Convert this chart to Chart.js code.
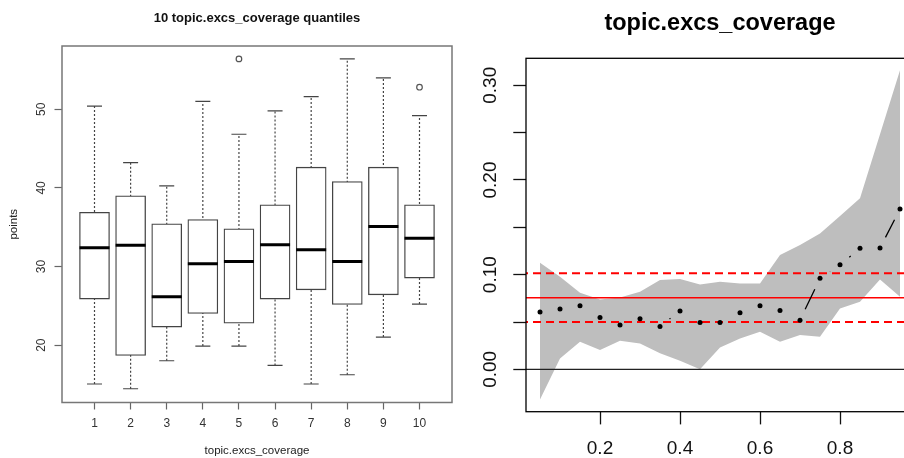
<!DOCTYPE html>
<html><head><meta charset="utf-8">
<script src="https://cdn.jsdelivr.net/npm/chart.js@4.4.1/dist/chart.umd.min.js"></script>
<style>
html,body{margin:0;padding:0;background:#fff;overflow:hidden;width:904px;height:458px;position:relative;}
#c1{position:absolute;left:0;top:0;}
#c2{position:absolute;left:470px;top:0;}
</style></head><body>
<canvas id="c1" width="470" height="458"></canvas>
<canvas id="c2" width="460" height="458"></canvas>
<script>
const FONT = "'Liberation Sans', Arial, Helvetica, sans-serif";

// ---------- Left panel: boxplot of points by quantile group ----------
const quantileGroups = [1, 2, 3, 4, 5, 6, 7, 8, 9, 10];
const whiskerLow  = [15.06, 14.46, 18.02, 19.89, 19.89, 17.42, 15.06, 16.24, 21.03, 25.22];
const q1          = [25.86, 18.70, 22.30, 24.03, 22.80, 25.86, 27.04, 25.17, 26.40, 28.53];
const median      = [32.40, 32.70, 26.15, 30.34, 30.64, 32.76, 32.12, 30.64, 35.08, 33.60];
const q3          = [36.90, 39.00, 35.43, 35.97, 34.79, 37.84, 42.63, 40.80, 42.63, 37.84];
const whiskerHigh = [50.40, 43.20, 40.25, 51.00, 46.82, 49.80, 51.60, 56.40, 53.98, 49.19];
const outlierGroups = [5, 10];
const outlierValues = [56.4, 52.8];
const leftYTicks = [20, 30, 40, 50];
const leftYTickLabels = ['20', '30', '40', '50'];
const leftXTickLabels = ['1', '2', '3', '4', '5', '6', '7', '8', '9', '10'];

// ---------- Right panel: coverage estimate with band ----------
const coverageX = [0.05, 0.10, 0.15, 0.20, 0.25, 0.30, 0.35, 0.40, 0.45, 0.50,
                   0.55, 0.60, 0.65, 0.70, 0.75, 0.80, 0.85, 0.90, 0.95];
const estimate  = [0.0605, 0.0637, 0.0672, 0.0549, 0.0468, 0.0535, 0.0454, 0.0616, 0.0496, 0.0496,
                   0.0598, 0.0672, 0.0623, 0.0520, 0.0961, 0.1105, 0.1278, 0.1281, 0.1693];
const bandUpper = [0.1126, 0.0978, 0.0809, 0.0739, 0.0760, 0.0820, 0.0943, 0.0954, 0.0897, 0.0925,
                   0.0908, 0.0908, 0.1207, 0.1313, 0.1436, 0.1619, 0.1806, 0.2484, 0.3160];
const bandLower = [-0.0317, 0.0116, 0.0292, 0.0204, 0.0302, 0.0274, 0.0169, 0.0091, 0.0000, 0.0232,
                   0.0327, 0.0397, 0.0292, 0.0362, 0.0344, 0.0644, 0.0714, 0.0950, 0.0767];
const meanLevel = 0.0757;
const upperLevel = 0.1014;
const lowerLevel = 0.0500;
const zeroLevel = 0;
const rightYTicks = [0, 0.05, 0.10, 0.15, 0.20, 0.25, 0.30];
const rightYTickLabels = ['0.00', '', '0.10', '', '0.20', '', '0.30'];
const rightXTicks = [0.2, 0.4, 0.6, 0.8];
const rightXTickLabels = ['0.2', '0.4', '0.6', '0.8'];

// ---------- plugins ----------
const framePlugin = {
  id: 'frame',
  afterDatasetsDraw(chart, args, opts) {
    const {ctx, chartArea: a} = chart;
    ctx.save();
    ctx.strokeStyle = opts.color || '#000';
    ctx.lineWidth = opts.width || 1;
    ctx.strokeRect(a.left, a.top, a.right - a.left, a.bottom - a.top);
    ctx.restore();
  }
};
const connectorPlugin = {
  id: 'connector',
  afterDatasetsDraw(chart, args, opts) {
    if (opts.datasetIndex === undefined) return;
    const {ctx, chartArea: a} = chart;
    const pts = chart.getDatasetMeta(opts.datasetIndex).data;
    const gap = opts.gap;
    ctx.save();
    ctx.beginPath();
    ctx.rect(a.left, a.top, a.right - a.left, a.bottom - a.top);
    ctx.clip();
    ctx.strokeStyle = opts.color;
    ctx.lineWidth = opts.width;
    ctx.beginPath();
    for (let i = 0; i < pts.length - 1; i++) {
      const p0 = pts[i], p1 = pts[i + 1];
      const dx = p1.x - p0.x, dy = p1.y - p0.y;
      const L = Math.sqrt(dx * dx + dy * dy);
      if (L > 2 * gap) {
        ctx.moveTo(p0.x + dx / L * gap, p0.y + dy / L * gap);
        ctx.lineTo(p1.x - dx / L * gap, p1.y - dy / L * gap);
      }
    }
    ctx.stroke();
    ctx.restore();
  }
};

// ---------- left chart ----------
const whiskerData = [];
quantileGroups.forEach((g, i) => {
  whiskerData.push({x: g, y: whiskerLow[i]}, {x: g, y: whiskerHigh[i]}, {x: g + 0.5, y: null});
});
const capData = [];
quantileGroups.forEach((g, i) => { capData.push({x: g, y: whiskerLow[i]}, {x: g, y: whiskerHigh[i]}); });

new Chart(document.getElementById('c1'), {
  type: 'bar',
  data: {
    datasets: [
      {type: 'scatter', label: 'median', data: quantileGroups.map((g, i) => ({x: g, y: median[i]})),
       pointStyle: 'line', pointRadius: 15, pointBorderWidth: 3, pointBorderColor: '#000', borderColor: '#000', order: 0},
      {type: 'scatter', label: 'caps', data: capData,
       pointStyle: 'line', pointRadius: 7.5, pointBorderWidth: 1.2, pointBorderColor: '#444', borderColor: '#444', order: 1},
      {type: 'scatter', label: 'outliers', data: outlierGroups.map((g, i) => ({x: g, y: outlierValues[i]})),
       pointStyle: 'circle', pointRadius: 2.8, pointBorderWidth: 1.2, pointBorderColor: '#555',
       pointBackgroundColor: 'rgba(255,255,255,0)', order: 1},
      {type: 'bar', label: 'box', data: quantileGroups.map((g, i) => ({x: g, y: [q1[i], q3[i]]})),
       barThickness: 30, backgroundColor: '#fff', borderColor: '#444', borderWidth: 1.3, borderSkipped: false, order: 2},
      {type: 'line', label: 'whiskers', data: whiskerData, borderDash: [2, 2], borderColor: '#444',
       borderWidth: 1.2, pointRadius: 0, spanGaps: false, fill: false, order: 3}
    ]
  },
  options: {
    responsive: false, animation: false, events: [],
    layout: {padding: {left: 0, right: 12, top: 0, bottom: 0}},
    plugins: {
      legend: {display: false}, tooltip: {enabled: false},
      title: {display: true, text: '10 topic.excs_coverage quantiles', fullSize: false, color: '#111',
              font: {family: FONT, size: 13, weight: 'bold'}, padding: {top: 10.4, bottom: 20}},
      frame: {color: '#777', width: 1.5}
    },
    scales: {
      x: {
        type: 'linear', min: 0.1, max: 10.9, offset: false,
        afterBuildTicks: s => { s.ticks = quantileGroups.map(v => ({value: v})); },
        afterFit: s => { s.height = 55.5; },
        ticks: {autoSkip: false, minRotation: 0, maxRotation: 0, padding: 7, color: '#333',
                font: {family: FONT, size: 12}, callback: (v, i) => leftXTickLabels[i]},
        grid: {display: true, offset: false, drawOnChartArea: false, drawTicks: true, tickLength: 7, tickColor: '#666', tickWidth: 1.2},
        border: {display: false},
        title: {display: true, text: 'topic.excs_coverage', color: '#222', font: {family: FONT, size: 11.5},
                padding: {top: 0, bottom: 0.6}}
      },
      y: {
        type: 'linear', min: 12.71, max: 58.04, beginAtZero: false,
        afterBuildTicks: s => { s.ticks = leftYTicks.map(v => ({value: v})); },
        afterFit: s => { s.width = 62; },
        ticks: {autoSkip: false, minRotation: 90, maxRotation: 90, crossAlign: 'center', padding: 6.5, color: '#333',
                font: {family: FONT, size: 12}, callback: (v, i) => leftYTickLabels[i]},
        grid: {display: true, drawOnChartArea: false, drawTicks: true, tickLength: 7.5, tickColor: '#666', tickWidth: 1.2},
        border: {display: false},
        title: {display: true, text: 'points', color: '#222', font: {family: FONT, size: 11.5},
                padding: {top: 7, bottom: 0}}
      }
    }
  },
  plugins: [framePlugin]
});

// ---------- right chart ----------
const xy = (xs, ys) => xs.map((x, i) => ({x: x, y: ys[i]}));
const hline = v => [{x: 0, y: v}, {x: 1, y: v}];

new Chart(document.getElementById('c2'), {
  type: 'line',
  data: {
    datasets: [
      {type: 'scatter', label: 'estimate', data: xy(coverageX, estimate), pointRadius: 2.5,
       pointBackgroundColor: '#000', pointBorderWidth: 0, pointBorderColor: '#000', order: 0},
      {label: 'zero', data: hline(zeroLevel), borderColor: '#222', borderWidth: 1.2, pointRadius: 0, fill: false, order: 1},
      {label: 'mean', data: hline(meanLevel), borderColor: '#ff0000', borderWidth: 1.5, pointRadius: 0, fill: false, order: 1},
      {label: 'upper level', data: hline(upperLevel), borderColor: '#ff0000', borderWidth: 2, borderDash: [8, 5],
       pointRadius: 0, fill: false, order: 1},
      {label: 'lower level', data: hline(lowerLevel), borderColor: '#ff0000', borderWidth: 2, borderDash: [8, 5],
       pointRadius: 0, fill: false, order: 1},
      {label: 'band upper', data: xy(coverageX, bandUpper), borderColor: 'rgba(0,0,0,0)', borderWidth: 0,
       pointRadius: 0, fill: '+1', backgroundColor: '#bebebe', tension: 0, order: 5},
      {label: 'band lower', data: xy(coverageX, bandLower), borderColor: 'rgba(0,0,0,0)', borderWidth: 0,
       pointRadius: 0, fill: false, tension: 0, order: 6}
    ]
  },
  options: {
    responsive: false, animation: false, events: [],
    layout: {padding: {left: 0, right: 16, top: 0, bottom: 0}},
    plugins: {
      legend: {display: false}, tooltip: {enabled: false},
      title: {display: true, text: 'topic.excs_coverage', fullSize: false, color: '#000',
              font: {family: FONT, size: 23.5, weight: 'bold'}, padding: {top: 9.4, bottom: 20.7}},
      frame: {color: '#000', width: 1.3},
      connector: {datasetIndex: 0, gap: 12, color: '#000', width: 1.3}
    },
    scales: {
      x: {
        type: 'linear', min: 0.015, max: 0.985,
        afterBuildTicks: s => { s.ticks = rightXTicks.map(v => ({value: v})); },
        afterFit: s => { s.height = 46.3; },
        ticks: {autoSkip: false, minRotation: 0, maxRotation: 0, padding: 13, color: '#111',
                font: {family: FONT, size: 19}, callback: (v, i) => rightXTickLabels[i]},
        grid: {display: true, drawOnChartArea: false, drawTicks: true, tickLength: 12.7, tickColor: '#111', tickWidth: 1.3},
        border: {display: false}
      },
      y: {
        type: 'linear', min: -0.0447, max: 0.3285,
        afterBuildTicks: s => { s.ticks = rightYTicks.map(v => ({value: v})); },
        afterFit: s => { s.width = 56; },
        ticks: {autoSkip: false, minRotation: 90, maxRotation: 90, crossAlign: 'center', padding: 3.8, color: '#111',
                font: {family: FONT, size: 19}, callback: (v, i) => rightYTickLabels[i]},
        grid: {display: true, drawOnChartArea: false, drawTicks: true, tickLength: 12.7, tickColor: '#111', tickWidth: 1.3},
        border: {display: false}
      }
    }
  },
  plugins: [framePlugin, connectorPlugin]
});
</script>
</body></html>
